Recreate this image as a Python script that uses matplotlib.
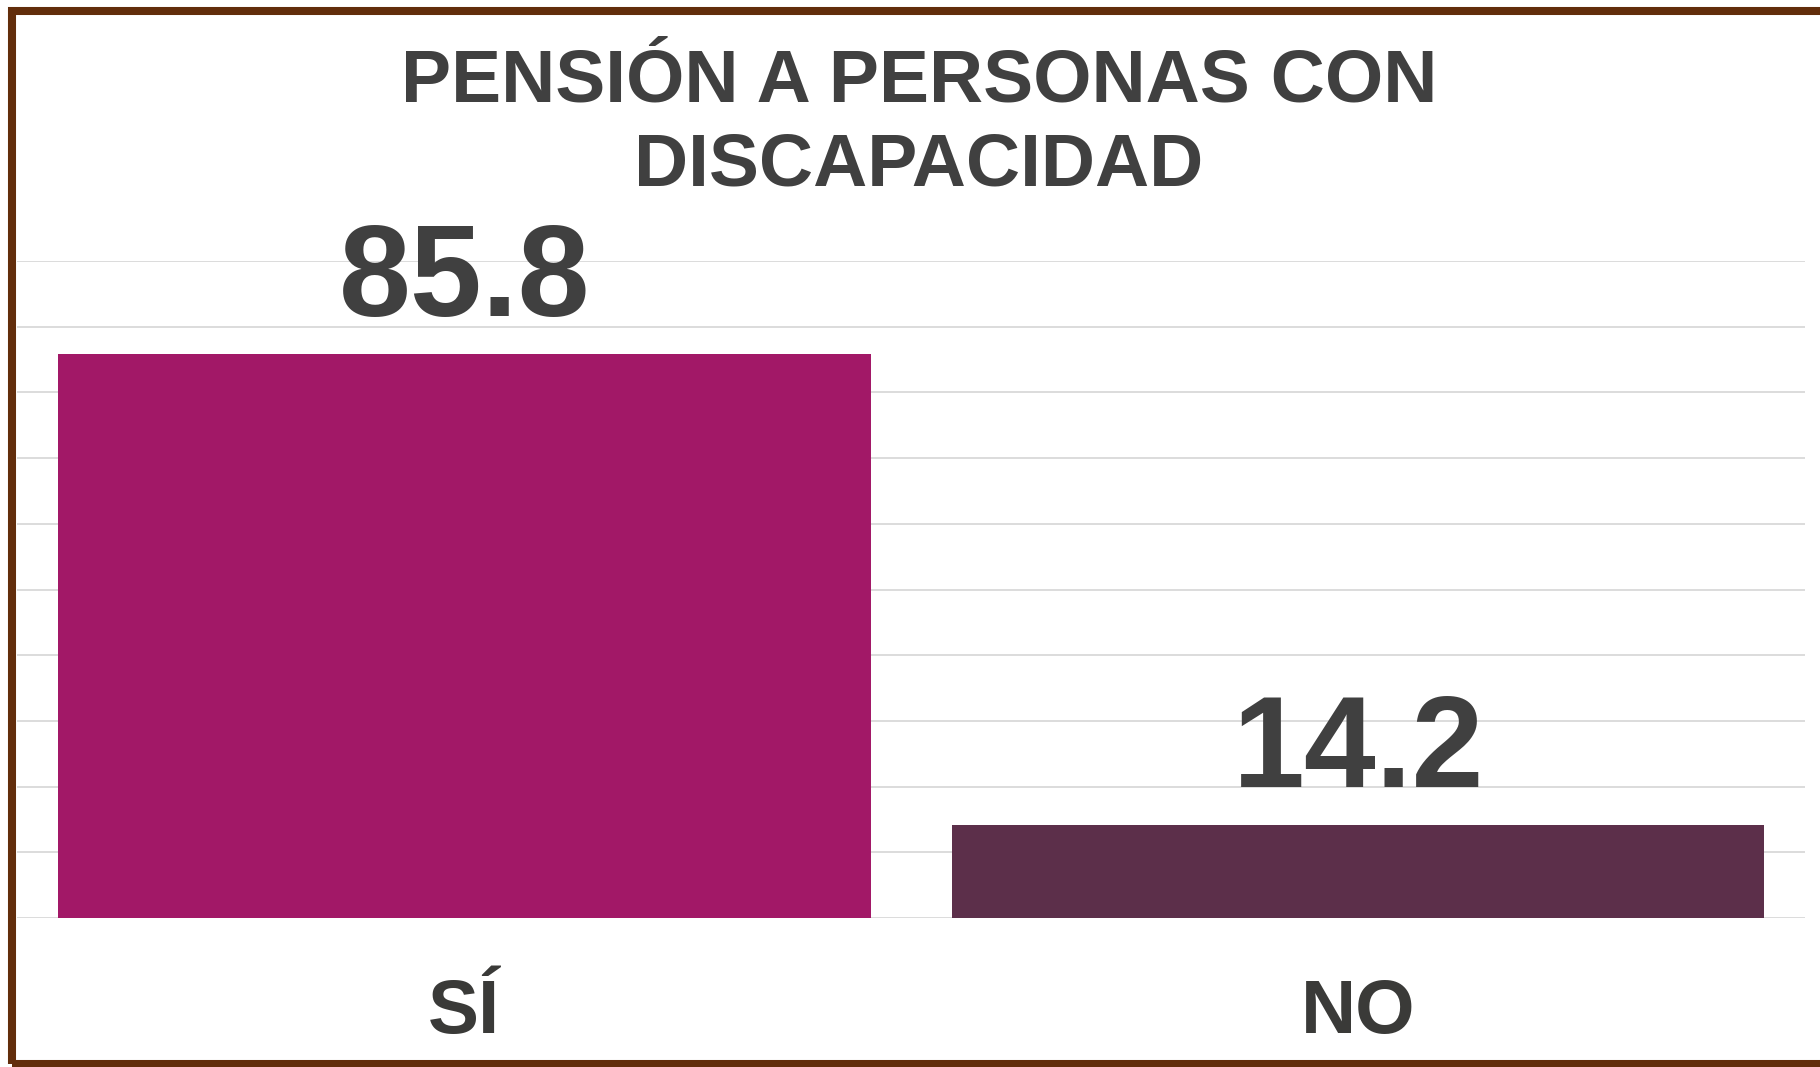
import matplotlib.pyplot as plt
from matplotlib.patches import Rectangle

plt.rcParams['font.family'] = ['Liberation Sans', 'DejaVu Sans']

categories = ['SÍ', 'NO']
values = [85.8, 14.2]
colors = ['#A21867', '#5C2F4A']
title_lines = ['PENSIÓN A PERSONAS CON', 'DISCAPACIDAD']
yticks = list(range(0, 101, 10))

W, H = 1820, 1067
fig = plt.figure(figsize=(W / 100, H / 100), dpi=100)
ax = fig.add_axes([17.4 / W, 1 - 918 / H, (1805 - 17.4) / W, (918 - 261) / H])

x = range(len(categories))
ax.bar(x, values, width=0.909, color=colors, zorder=2)
ax.set_xlim(-0.5, len(categories) - 0.5)
ax.set_ylim(0, 100)

ax.set_yticks(yticks)
ax.grid(axis='y', color='#D9D9D9', lw=1.3, zorder=0)
ax.tick_params(axis='y', left=False, labelleft=False)
ax.tick_params(axis='x', bottom=False, pad=40, labelsize=55, labelcolor='#3A3A38')
ax.set_xticks(list(x))
ax.set_xticklabels(categories, fontweight='bold')
ax.spines[:].set_visible(False)

for i, v in enumerate(values):
    ax.text(i, v + 5.8, f'{v:.1f}', ha='center', va='baseline',
            fontsize=93, fontweight='bold', color='#404040')

fig.text(0.505, 1 - 101 / H, title_lines[0], ha='center', va='baseline',
         fontsize=54, fontweight='bold', color='#404040')
fig.text(0.505, 1 - 185.7 / H, title_lines[1], ha='center', va='baseline',
         fontsize=54, fontweight='bold', color='#404040')

# brown frame, right side runs off the picture (display coords, origin bottom-left)
fig.patches.append(Rectangle((12, 3), 1830, 1053.5, transform=None,
                             fill=False, ec='#622D0B', lw=5.8, figure=fig))

fig.savefig('out.png', dpi=100)
